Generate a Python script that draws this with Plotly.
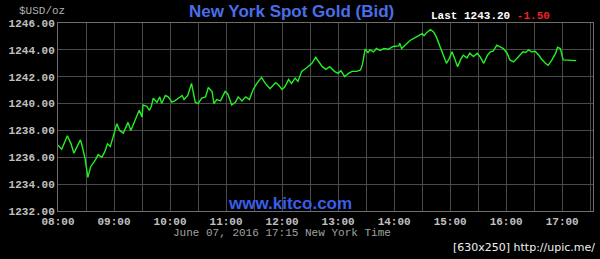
import plotly.graph_objects as go

times = ["08:00","08:04","08:10","08:14","08:17","08:24","08:26","08:29","08:32","08:35",
         "08:40","08:43","08:47","08:50","08:53","08:56","08:59","09:03","09:06","09:10",
         "09:15","09:18","09:24","09:27","09:30","09:31","09:35","09:38","09:40","09:42",
         "09:46","09:49","09:51","09:55","09:58","10:02","10:05","10:09","10:13","10:15",
         "10:19","10:23","10:27","10:30","10:34","10:38","10:41","10:45","10:47","10:50",
         "10:54","10:59","11:02","11:06","11:10","11:13","11:17","11:21","11:25","11:29",
         "11:33","11:38","11:42","11:47","11:53","11:56","12:00","12:03","12:07","12:10",
         "12:14","12:17","12:21","12:26","12:32","12:36","12:40","12:43","12:47","12:51",
         "12:56","13:00","13:03","13:07","13:11","13:15","13:20","13:24","13:26","13:29",
         "13:32","13:34","13:38","13:41","13:45","13:49","13:54","13:59","14:05","14:06",
         "14:08","14:12","14:17","14:22","14:27","14:30","14:32","14:35","14:39","14:42",
         "14:45","14:49","14:53","14:56","14:59","15:02","15:04","15:08","15:11","15:14",
         "15:18","15:21","15:25","15:29","15:32","15:36","15:40","15:43","15:46","15:50",
         "15:54","15:57","16:01","16:04","16:08","16:11","16:15","16:18","16:21","16:24",
         "16:27","16:31","16:35","16:38","16:42","16:45","16:49","16:53","16:55","16:58",
         "17:01","17:15"]
bid = [1236.9,1236.6,1237.6,1237.0,1236.3,1237.3,1236.8,1235.9,1234.5,1235.3,
       1235.8,1236.2,1236.0,1236.4,1237.0,1236.8,1237.5,1238.5,1238.0,1237.8,
       1238.6,1238.0,1239.0,1239.5,1239.0,1239.9,1239.8,1239.5,1239.8,1240.4,
       1240.1,1240.5,1240.0,1240.6,1240.5,1240.1,1240.2,1240.4,1240.6,1240.3,
       1240.6,1241.5,1240.1,1240.0,1240.4,1240.5,1241.2,1240.9,1240.0,1240.3,
       1240.2,1240.9,1240.7,1239.9,1240.1,1240.5,1240.2,1240.5,1240.3,1241.05,
       1241.5,1241.95,1241.5,1241.1,1241.55,1241.4,1241.05,1241.25,1241.8,1241.5,
       1241.9,1241.65,1242.4,1242.65,1243.0,1243.45,1243.1,1242.75,1242.55,1242.75,
       1242.4,1242.25,1242.45,1242.0,1242.25,1242.4,1242.4,1242.5,1242.9,1244.05,
       1243.8,1244.0,1243.85,1244.1,1243.95,1244.1,1244.05,1244.25,1244.3,1244.5,
       1244.1,1244.4,1244.7,1244.9,1245.1,1245.2,1245.05,1245.3,1245.5,1245.35,
       1245.0,1244.25,1243.5,1243.0,1243.35,1243.85,1243.5,1242.75,1243.25,1243.6,
       1243.4,1243.75,1243.5,1243.75,1243.5,1243.0,1243.6,1243.85,1243.9,1244.35,
       1244.2,1244.1,1243.75,1243.25,1243.1,1243.35,1243.6,1243.85,1243.8,1244.0,
       1243.85,1243.9,1243.6,1243.3,1243.0,1242.85,1243.25,1243.75,1244.2,1244.1,
       1243.25,1243.2]

x_ticks = ["08:00","09:00","10:00","11:00","12:00","13:00","14:00","15:00","16:00","17:00"]
y_ticks = [1232, 1234, 1236, 1238, 1240, 1242, 1244, 1246]
y_labels = ["%.2f" % v for v in y_ticks]
last_price = "1243.20"
change = "-1.50"

day = "2016-06-07 "
xs = [day + t for t in times]
minor_grid = [day + "%02d:30" % h for h in range(8, 18)]

mono = "Liberation Mono"

fig = go.Figure()
fig.add_trace(go.Scatter(x=xs, y=bid, mode="lines",
                         line=dict(color="#22f022", width=1.4), hoverinfo="skip"))

fig.update_layout(
    width=600, height=259,
    margin=dict(l=58, r=7, t=23, b=48),
    paper_bgcolor="black", plot_bgcolor="black",
    showlegend=False,
    xaxis=dict(
        range=[day + "08:00", day + "17:33"],
        tickvals=[day + t for t in x_ticks], ticktext=["<b>%s</b>" % t for t in x_ticks],
        tickfont=dict(family=mono, size=11, color="#c0c0c0"),
        showgrid=True, gridcolor="#4a4a4a", gridwidth=1,
        minor=dict(tickvals=minor_grid, showgrid=True, gridcolor="#4a4a4a", gridwidth=1),
        zeroline=False, ticks="", ticklen=0,
        showline=True, linecolor="#6e6e6e", mirror=True, linewidth=1,
    ),
    yaxis=dict(
        range=[1232, 1246],
        tickvals=y_ticks, ticktext=["<b>%s</b>" % t for t in y_labels],
        tickfont=dict(family=mono, size=11, color="#c0c0c0"),
        showgrid=True, gridcolor="#4a4a4a", gridwidth=1,
        zeroline=False, ticks="", ticklen=0,
        showline=True, linecolor="#6e6e6e", mirror=True, linewidth=1,
    ),
)

fig.add_annotation(text="<b>New York Spot Gold (Bid)</b>", xref="paper", yref="paper",
                   x=(291 - 58) / 535, y=1 + (23 - 12) / 188, showarrow=False,
                   font=dict(family="Liberation Sans", size=17, color="#4a6ee8"),
                   xanchor="center", yanchor="middle", borderpad=0)
fig.add_annotation(text="$USD/oz", xref="paper", yref="paper",
                   x=(18 - 58) / 535, y=1 + (23 - 11) / 188, showarrow=False,
                   font=dict(family=mono, size=11, color="#b0b0b0"),
                   xanchor="left", yanchor="middle", borderpad=0)
fig.add_annotation(text="<b>Last " + last_price + "</b> <span style='color:#ee2222'><b>" + change + "</b></span>",
                   xref="paper", yref="paper",
                   x=(430 - 58) / 535, y=1 + (23 - 16) / 188, showarrow=False,
                   font=dict(family=mono, size=11, color="#ffffff"),
                   xanchor="left", yanchor="middle", borderpad=0)
fig.add_annotation(text="<b>www.kitco.com</b>", xref="paper", yref="paper",
                   x=(290 - 58) / 535, y=(211 - 203) / 188, showarrow=False,
                   font=dict(family="Liberation Sans", size=17, color="#3a5ee8"),
                   xanchor="center", yanchor="middle", borderpad=0)
fig.add_annotation(text="June 07, 2016 17:15 New York Time", xref="paper", yref="paper",
                   x=(172 - 58) / 535, y=-(233 - 211) / 188, showarrow=False,
                   font=dict(family=mono, size=11, color="#a0a0a0"),
                   xanchor="left", yanchor="middle", borderpad=0)
fig.add_annotation(text="[630x250] http://upic.me/", xref="paper", yref="paper",
                   x=(596 - 58) / 535, y=-(247 - 211) / 188, showarrow=False,
                   font=dict(family="DejaVu Sans", size=11, color="#f0f0f0"),
                   xanchor="right", yanchor="middle", borderpad=0)

fig.write_html("out.html")
